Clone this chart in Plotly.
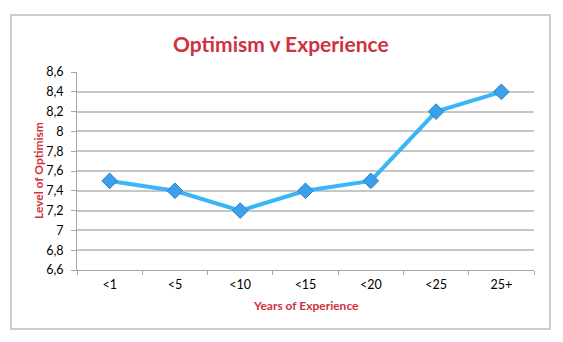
import plotly.graph_objects as go

categories = ["<1", "<5", "<10", "<15", "<20", "<25", "25+"]
optimism = [7.5, 7.4, 7.2, 7.4, 7.5, 8.2, 8.4]
y_tickvals = [6.6, 6.8, 7.0, 7.2, 7.4, 7.6, 7.8, 8.0, 8.2, 8.4, 8.6]
y_ticktext = ["6,6", "6,8", "7", "7,2", "7,4", "7,6", "7,8", "8", "8,2", "8,4", "8,6"]

W, H = 563, 342
L, R, T, B = 77, 534, 72, 270
pw, ph = R - L, B - T

def px(x):
    return (x - L) / pw

def py(y):
    return (B - y) / ph

red = "#d0313f"
font_family = "Lato, 'Open Sans', sans-serif"

fig = go.Figure()
fig.add_trace(go.Scatter(
    x=categories, y=optimism, mode="lines+markers",
    line=dict(color="#3ab5f8", width=4),
    marker=dict(symbol="diamond", size=12, color="#3aa0ec",
                line=dict(color="#2a7fc6", width=1)),
    showlegend=False, hoverinfo="skip",
))

fig.update_layout(
    width=W, height=H,
    margin=dict(l=L, r=W - R, t=T, b=H - B),
    paper_bgcolor="white", plot_bgcolor="white",
    font=dict(family=font_family, size=12, color="#000000"),
    xaxis=dict(
        type="category", range=[-0.5, 6.5],
        showgrid=False, showline=True, linecolor="#a6a6a6", linewidth=1,
        ticks="outside", ticklen=4, tickcolor="#a6a6a6",
        tickson="boundaries", zeroline=False, fixedrange=True,
        tickfont=dict(size=12.5, color="#000000"),
        ticklabelstandoff=3,
    ),
    yaxis=dict(
        range=[6.6, 8.6], tickvals=y_tickvals, ticktext=y_ticktext,
        showgrid=True, gridcolor="#c6c6c6", gridwidth=1.5,
        showline=True, linecolor="#a6a6a6", linewidth=1,
        ticks="outside", ticklen=5, tickcolor="#a6a6a6",
        zeroline=False, fixedrange=True,
        tickfont=dict(size=12.5, color="#000000"),
        ticklabelstandoff=5,
    ),
    shapes=[dict(
        type="rect", xref="paper", yref="paper",
        x0=px(11), x1=px(550), y0=py(329), y1=py(15),
        line=dict(color="#bdbdbd", width=1.5), fillcolor="rgba(0,0,0,0)",
        layer="below",
    )],
    annotations=[
        dict(text="<b>Optimism v Experience</b>", xref="paper", yref="paper",
             x=px(281), y=py(43), showarrow=False, xanchor="center", yanchor="middle",
             font=dict(size=21, color=red, family=font_family)),
        dict(text="<b>Years of Experience</b>", xref="paper", yref="paper",
             x=px(306), y=py(305), showarrow=False, xanchor="center", yanchor="middle",
             font=dict(size=12, color=red, family=font_family)),
        dict(text="<b>Level of Optimism</b>", xref="paper", yref="paper",
             x=px(38), y=py(171), showarrow=False, xanchor="center", yanchor="middle",
             textangle=-90, font=dict(size=12, color=red, family=font_family)),
    ],
)

fig.write_html("out.html")
